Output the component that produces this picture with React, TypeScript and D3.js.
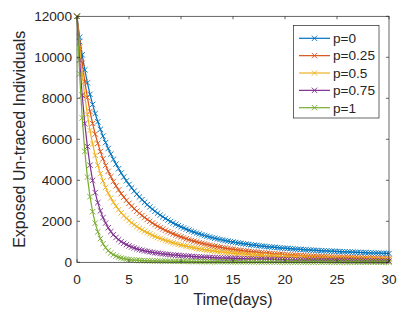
import React, { useEffect, useRef } from "react";
import * as d3 from "d3";

// time grid of the simulation (days)
const TIME = d3.range(0, 30.001, 0.25);

const LABELS = ["p=0", "p=0.25", "p=0.5", "p=0.75", "p=1"];
const COLORS = ["#0072BD", "#D95319", "#EDB120", "#7E2F8E", "#77AC30"];

const P_0 = [12000, 10980, 10121, 9388, 8753, 8196, 7702, 7258, 6855, 6488, 6152, 5839, 5550, 5280, 5026, 4789, 4566, 4357, 4160, 3974,
  3798, 3632, 3476, 3327, 3187, 3055, 2930, 2812, 2698, 2592, 2491, 2395, 2304, 2218, 2137, 2059, 1987, 1917, 1850, 1788,
  1728, 1672, 1618, 1567, 1517, 1471, 1427, 1385, 1345, 1307, 1271, 1236, 1204, 1172, 1142, 1113, 1087, 1061, 1035, 1012,
  989, 967, 946, 926, 907, 889, 871, 854, 838, 822, 808, 793, 779, 765, 753, 741, 729, 718, 705, 694,
  685, 675, 664, 655, 645, 636, 627, 619, 610, 602, 595, 587, 580, 573, 566, 559, 553, 546, 540, 534,
  528, 522, 516, 511, 505, 500, 494, 489, 484, 479, 474, 469, 464, 459, 454, 449, 446, 441, 437, 432, 429];
const P_025 = [12000, 10767, 9713, 8810, 8032, 7358, 6771, 6257, 5803, 5403, 5047, 4728, 4440, 4180, 3944, 3728, 3531, 3349, 3180, 3024,
  2878, 2742, 2615, 2496, 2386, 2281, 2182, 2089, 1999, 1916, 1837, 1762, 1692, 1625, 1560, 1499, 1442, 1387, 1334, 1284,
  1238, 1193, 1147, 1106, 1068, 1031, 994, 960, 928, 897, 867, 839, 811, 785, 761, 737, 714, 692, 671, 651,
  633, 614, 596, 579, 563, 548, 533, 519, 505, 492, 479, 467, 455, 444, 433, 423, 413, 403, 394, 385,
  376, 367, 359, 351, 344, 337, 329, 323, 316, 310, 303, 297, 292, 286, 281, 276, 270, 265, 260, 255,
  250, 245, 241, 237, 234, 230, 226, 222, 218, 214, 210, 207, 203, 200, 198, 195, 191, 188, 184, 181, 179];
const P_05 = [12000, 10469, 9186, 8108, 7199, 6429, 5773, 5215, 4735, 4323, 3965, 3653, 3380, 3140, 2927, 2738, 2567, 2414, 2276, 2150,
  2036, 1931, 1833, 1744, 1661, 1584, 1511, 1444, 1381, 1321, 1265, 1213, 1163, 1116, 1071, 1029, 989, 951, 915, 880,
  848, 817, 786, 759, 732, 707, 682, 659, 637, 616, 596, 577, 559, 542, 524, 508, 493, 478, 465, 452,
  439, 427, 415, 404, 392, 381, 373, 363, 354, 345, 336, 327, 320, 313, 305, 299, 292, 286, 280, 274,
  268, 263, 257, 252, 246, 241, 237, 233, 228, 224, 219, 215, 211, 207, 204, 200, 198, 195, 191, 188,
  184, 181, 179, 176, 173, 170, 168, 165, 163, 160, 158, 155, 154, 151, 150, 147, 146, 143, 142, 141, 138];
const P_075 = [12000, 9868, 8150, 6764, 5643, 4736, 3998, 3399, 2911, 2510, 2183, 1913, 1687, 1501, 1345, 1214, 1103, 1008, 928, 859,
  798, 746, 699, 658, 622, 589, 559, 533, 508, 486, 466, 448, 429, 413, 398, 384, 370, 357, 346, 336,
  324, 315, 304, 295, 287, 279, 272, 265, 257, 250, 244, 237, 231, 226, 220, 215, 210, 205, 200, 196,
  192, 188, 183, 179, 175, 171, 169, 165, 161, 157, 155, 151, 149, 146, 143, 141, 137, 135, 132, 130,
  127, 125, 122, 120, 118, 116, 113, 111, 109, 107, 106, 104, 102, 100, 98, 96, 94, 92, 91, 89,
  88, 86, 85, 84, 82, 81, 79, 78, 77, 76, 74, 73, 71, 70, 69, 68, 67, 66, 64, 63, 62];
const P_1 = [12000, 9192, 7046, 5408, 4157, 3201, 2470, 1911, 1484, 1158, 907, 716, 569, 456, 369, 302, 250, 210, 179, 154,
  136, 121, 109, 100, 91, 85, 80, 75, 71, 68, 65, 62, 59, 57, 55, 53, 51, 49, 48, 47,
  45, 44, 43, 42, 40, 39, 38, 37, 36, 35, 33, 32, 31, 30, 30, 29, 28, 27, 26, 25,
  25, 24, 23, 22, 22, 21, 21, 20, 20, 19, 18, 17, 17, 16, 16, 15, 15, 14, 14, 14,
  14, 13, 13, 12, 12, 12, 11, 11, 11, 10, 10, 10, 9, 9, 9, 8, 8, 8, 8, 7,
  7, 7, 7, 7, 7, 6, 6, 6, 6, 6, 6, 5, 5, 5, 5, 5, 5, 4, 4, 4, 4];

const SERIES = [P_0, P_025, P_05, P_075, P_1];

const X_TICKS = [0, 5, 10, 15, 20, 25, 30];
const Y_TICKS = [0, 2000, 4000, 6000, 8000, 10000, 12000];

const FONT = "'Liberation Sans', Arial, Helvetica, sans-serif";
const INK = "#262626";

export default function App() {
  const svgRef = useRef(null);

  useEffect(() => {
    if (!svgRef.current) return;
    const svg = d3.select(svgRef.current);
    svg.selectAll("*").remove();

    const left = 77, right = 389, top = 16.3, bottom = 262.3;

    const x = d3.scaleLinear().domain([0, 30]).range([left, right]);
    const y = d3.scaleLinear().domain([0, 12000]).range([bottom, top]);

    svg.append("rect").attr("width", 407).attr("height", 312).attr("fill", "#fff");

    const plot = svg.append("g");

    const line = d3.line<number>()
      .x((d, i) => x(TIME[i]))
      .y(d => y(d));

    const xMark = "M-2.7,-2.7L2.7,2.7M-2.7,2.7L2.7,-2.7";

    SERIES.forEach((vals, s) => {
      plot.append("path")
        .datum(vals)
        .attr("fill", "none")
        .attr("stroke", COLORS[s])
        .attr("stroke-width", 1.2)
        .attr("d", line);

      plot.selectAll(`.m${s}`)
        .data(vals)
        .enter()
        .append("path")
        .attr("class", `m${s}`)
        .attr("transform", (d, i) => `translate(${x(TIME[i])},${y(d)})`)
        .attr("d", xMark)
        .attr("fill", "none")
        .attr("stroke", COLORS[s])
        .attr("stroke-width", 0.9);
    });

    // axes box
    const axes = svg.append("g").attr("stroke", INK).attr("stroke-width", 0.7).attr("fill", "none");
    axes.append("rect")
      .attr("x", left).attr("y", top)
      .attr("width", right - left).attr("height", bottom - top);

    const tickLen = 3;
    X_TICKS.forEach(t => {
      axes.append("line").attr("x1", x(t)).attr("x2", x(t)).attr("y1", bottom).attr("y2", bottom - tickLen);
      axes.append("line").attr("x1", x(t)).attr("x2", x(t)).attr("y1", top).attr("y2", top + tickLen);
    });
    Y_TICKS.forEach(t => {
      axes.append("line").attr("x1", left).attr("x2", left + tickLen).attr("y1", y(t)).attr("y2", y(t));
      axes.append("line").attr("x1", right).attr("x2", right - tickLen).attr("y1", y(t)).attr("y2", y(t));
    });

    // tick labels
    svg.append("g")
      .selectAll("text")
      .data(X_TICKS)
      .enter()
      .append("text")
      .attr("x", d => x(d))
      .attr("y", 284)
      .attr("text-anchor", "middle")
      .attr("font-family", FONT)
      .attr("font-size", "13.6px")
      .attr("fill", INK)
      .text(d => d);

    svg.append("g")
      .selectAll("text")
      .data(Y_TICKS)
      .enter()
      .append("text")
      .attr("x", 72)
      .attr("y", d => y(d) + 4.8)
      .attr("text-anchor", "end")
      .attr("font-family", FONT)
      .attr("font-size", "13.6px")
      .attr("fill", INK)
      .text(d => d);

    // axis labels
    svg.append("text")
      .attr("x", (left + right) / 2)
      .attr("y", 305)
      .attr("text-anchor", "middle")
      .attr("font-family", FONT)
      .attr("font-size", "16px")
      .attr("fill", INK)
      .text("Time(days)");

    svg.append("text")
      .attr("transform", `translate(24.5,${(top + bottom) / 2}) rotate(-90)`)
      .attr("text-anchor", "middle")
      .attr("font-family", FONT)
      .attr("font-size", "16px")
      .attr("fill", INK)
      .text("Exposed Un-traced Individuals");

    // legend
    const legend = svg.append("g");
    legend.append("rect")
      .attr("x", 293.5).attr("y", 25.5)
      .attr("width", 85.5).attr("height", 92.5)
      .attr("fill", "#fff")
      .attr("stroke", INK)
      .attr("stroke-width", 0.7);

    const rowY = d3.scaleLinear().domain([0, 4]).range([38.3, 107.7]);
    const item = legend.selectAll(".item")
      .data(LABELS)
      .enter()
      .append("g")
      .attr("transform", (d, i) => `translate(0,${rowY(i)})`);

    item.append("line")
      .attr("x1", 299).attr("x2", 330)
      .attr("stroke", (d, i) => COLORS[i])
      .attr("stroke-width", 1.2);
    item.append("path")
      .attr("transform", "translate(314.5,0)")
      .attr("d", xMark)
      .attr("fill", "none")
      .attr("stroke", (d, i) => COLORS[i])
      .attr("stroke-width", 0.9);
    item.append("text")
      .attr("x", 333)
      .attr("y", 4.8)
      .attr("font-family", FONT)
      .attr("font-size", "13.6px")
      .attr("fill", INK)
      .text(d => d);
  }, []);

  return (
    <svg
      ref={svgRef}
      width={407}
      height={312}
      style={{ position: "absolute", left: 0, top: 0 }}
    />
  );
}
